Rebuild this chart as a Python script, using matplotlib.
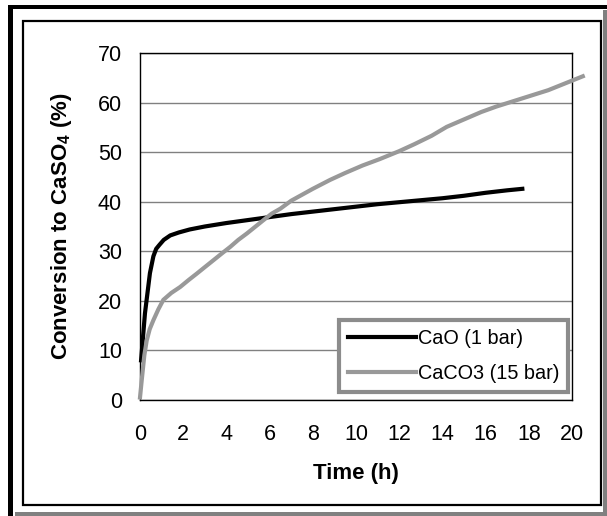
import matplotlib
matplotlib.use("Agg")
import matplotlib.pyplot as plt
from matplotlib.patches import Rectangle

plt.rcParams["font.family"] = ["Liberation Sans", "DejaVu Sans"]
plt.rcParams["mathtext.fontset"] = "custom"
plt.rcParams["mathtext.rm"] = "Liberation Sans"
plt.rcParams["mathtext.bf"] = "Liberation Sans:bold"

# CaO at 1 bar (black)
cao_t = [0.05, 0.23, 0.46, 0.62, 0.75, 0.9, 1.1, 1.4, 1.8, 2.3, 3.0, 4.0, 5.0, 6.0,
         7.0, 8.0, 9.0, 10.0, 11.0, 12.0, 13.0, 14.0, 15.0, 16.0, 17.0, 17.7]
cao_x = [8.0, 17.5, 25.6, 29.0, 30.5, 31.3, 32.3, 33.2, 33.8, 34.4, 35.0, 35.7, 36.3, 36.9,
         37.5, 38.0, 38.5, 39.0, 39.5, 39.9, 40.3, 40.7, 41.2, 41.8, 42.3, 42.6]

# CaCO3 at 15 bar (grey)
caco3_t = [0.0, 0.08, 0.2, 0.31, 0.45, 0.62, 0.85, 1.08, 1.45, 1.86, 2.25, 2.63, 3.0, 3.4,
           3.8, 4.18, 4.55, 4.95, 5.35, 5.72, 6.1, 6.5, 7.0, 7.5, 8.0, 8.8, 9.5, 10.3,
           11.1, 12.0, 12.7, 13.5, 14.2, 15.0, 15.8, 16.5, 17.3, 18.1, 18.9, 19.7, 20.5]
caco3_x = [0.5, 4.0, 9.0, 12.0, 14.3, 16.1, 18.3, 20.2, 21.6, 22.8, 24.2, 25.5, 26.8, 28.2,
           29.6, 30.9, 32.3, 33.6, 35.0, 36.3, 37.6, 38.6, 40.2, 41.4, 42.6, 44.4, 45.8, 47.3,
           48.6, 50.2, 51.6, 53.3, 55.1, 56.6, 58.1, 59.2, 60.3, 61.4, 62.5, 63.9, 65.3]

x_ticks = list(range(0, 21, 2))
y_ticks = list(range(0, 71, 10))

W, H = 607, 516
fig = plt.figure(figsize=(W / 100, H / 100), dpi=100)

def box(x0, y0, x1, y1, **kw):
    # rectangle given in pixel coords measured from top-left
    fig.add_artist(Rectangle((x0 / W, 1 - y1 / H), (x1 - x0) / W, (y1 - y0) / H,
                             transform=fig.transFigure, **kw))

# outer frame: black top/left, grey shadow right/bottom
box(8, 5, 607, 9, facecolor="black", edgecolor="none")
box(8, 5, 13, 516, facecolor="black", edgecolor="none")
box(603, 10, 607, 516, facecolor="#808080", edgecolor="none")
box(15, 512, 607, 516, facecolor="#808080", edgecolor="none")
# inner chart area frame
box(23, 21, 601, 505, facecolor="none", edgecolor="black", linewidth=1.6)

ax = fig.add_axes([140 / W, 1 - 400 / H, 432 / W, 347 / H])
ax.plot(cao_t, cao_x, color="black", lw=3.0, label="CaO (1 bar)", clip_on=False, zorder=3)
ax.plot(caco3_t, caco3_x, color="#999999", lw=3.0, label="CaCO3 (15 bar)", clip_on=False, zorder=4)

ax.set_xlim(0, 20)
ax.set_ylim(0, 70)
ax.set_xticks(x_ticks)
ax.set_yticks(y_ticks)
ax.tick_params(axis="both", length=0, labelsize=15.5)
ax.tick_params(axis="x", pad=17)
ax.tick_params(axis="y", pad=13)
ax.yaxis.grid(True, color="#808080", lw=1.0)
ax.set_axisbelow(True)
for s in ax.spines.values():
    s.set_color("black")
    s.set_linewidth(1.0)

ax.set_xlabel("Time (h)", fontsize=16, fontweight="bold", labelpad=13)
ax.set_ylabel(r"Conversion to CaSO$_\mathbf{4}$ (%)", fontsize=16, fontweight="bold", labelpad=17)

leg = ax.legend(loc="lower right", bbox_to_anchor=(0.991, 0.023), borderaxespad=0,
                fontsize=14.3, handlelength=3.4, handletextpad=0.1, labelspacing=0.8,
                borderpad=0.45, fancybox=False, framealpha=1)
leg.get_frame().set_edgecolor("#8c8c8c")
leg.get_frame().set_linewidth(3)
leg.set_zorder(5)

fig.savefig("out.png", dpi=100)
